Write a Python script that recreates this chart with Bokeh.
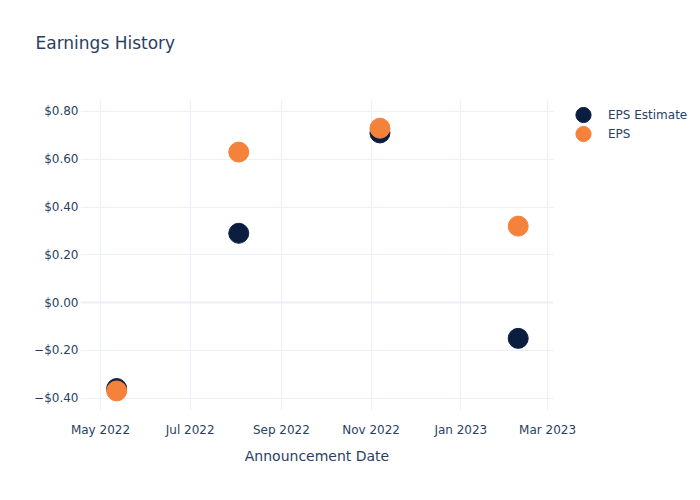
from datetime import datetime
from bokeh.plotting import figure
from bokeh.models import (FixedTicker, DatetimeTickFormatter, Legend, LegendItem,
                          Title, Range1d, ColumnDataSource, Span)
from bokeh.embed import file_html
from bokeh.resources import INLINE

# Data
dates = [datetime(2022, 5, 12), datetime(2022, 8, 3), datetime(2022, 11, 7), datetime(2023, 2, 9)]
eps_estimate = [-0.36, 0.29, 0.71, -0.15]
eps_actual = [-0.37, 0.63, 0.73, 0.32]
y_ticks = [-0.4, -0.2, 0.0, 0.2, 0.4, 0.6, 0.8]
y_tick_labels = ["\u2212$0.40", "\u2212$0.20", "$0.00", "$0.20", "$0.40", "$0.60", "$0.80"]
x_ticks = [datetime(2022, 5, 1), datetime(2022, 7, 1), datetime(2022, 9, 1),
           datetime(2022, 11, 1), datetime(2023, 1, 1), datetime(2023, 3, 1)]

FONT = "DejaVu Sans"
TXT = "#2a3f5f"
GRID = "#ebf0f8"

p = figure(frame_width=473, frame_height=310, x_axis_type="datetime", output_backend="svg",
           toolbar_location=None,
           x_range=Range1d(datetime(2022, 4, 17, 10), datetime(2023, 3, 5)),
           y_range=Range1d(-0.452, 0.846),
           min_border_left=80, min_border_right=147, min_border_top=100, min_border_bottom=90)
p.outline_line_color = None
p.background_fill_color = "white"
p.border_fill_color = "white"

src_est = ColumnDataSource(dict(x=dates, y=eps_estimate))
src_eps = ColumnDataSource(dict(x=dates, y=eps_actual))

# zero line
p.add_layout(Span(location=0, dimension="width", line_color=GRID, line_width=2, level="underlay"))

r1 = p.ellipse("x", "y", source=src_est, width=20, height=20, width_units="screen",
               height_units="screen", fill_color="#0c1e40", line_color="#0c1e40")
r2 = p.ellipse("x", "y", source=src_eps, width=20, height=20, width_units="screen",
               height_units="screen", fill_color="#f5823a", line_color="#f5823a")

# Axes
xa = p.xaxis[0]
xa.ticker = FixedTicker(ticks=[d.timestamp() * 1000 for d in x_ticks])
xa.formatter = DatetimeTickFormatter(months="%b %Y", days="%b %Y", years="%b %Y")
xa.axis_line_color = None
xa.major_tick_line_color = None
xa.minor_tick_line_color = None
xa.major_tick_out = 0
xa.major_tick_in = 0
xa.major_label_standoff = 12
xa.major_label_text_font = FONT
xa.major_label_text_font_size = "12px"
xa.major_label_text_color = TXT
xa.axis_label = "Announcement Date"
xa.axis_label_text_font = FONT
xa.axis_label_text_font_size = "14px"
xa.axis_label_text_font_style = "normal"
xa.axis_label_text_color = TXT
xa.axis_label_standoff = 8

ya = p.yaxis[0]
ya.ticker = FixedTicker(ticks=y_ticks)
ya.major_label_overrides = {t: l for t, l in zip(y_ticks, y_tick_labels)}
ya.axis_line_color = None
ya.major_tick_line_color = None
ya.minor_tick_line_color = None
ya.major_tick_out = 0
ya.major_tick_in = 0
ya.major_label_standoff = 2
ya.major_label_text_font = FONT
ya.major_label_text_font_size = "12px"
ya.major_label_text_color = TXT

p.xgrid.grid_line_color = GRID
p.ygrid.grid_line_color = GRID
p.xgrid.ticker = xa.ticker
p.ygrid.ticker = ya.ticker

legend = Legend(items=[LegendItem(label="EPS Estimate", renderers=[r1]),
                       LegendItem(label="EPS", renderers=[r2])],
                border_line_color=None, background_fill_alpha=0,
                label_text_font=FONT, label_text_font_size="12px", label_text_color=TXT,
                glyph_width=50, glyph_height=19, label_height=19, spacing=0, padding=5,
                margin=5, label_standoff=-10, location="top_left")
p.add_layout(legend, "right")

p.add_layout(Title(text=" ", text_font_size="28px"), "above")
p.add_layout(Title(text="Earnings History", text_font=FONT, text_font_size="17px",
                   text_font_style="normal", text_color=TXT, align="left", offset=-45),
             "above")

open("out.html", "w").write(file_html(p, INLINE))
